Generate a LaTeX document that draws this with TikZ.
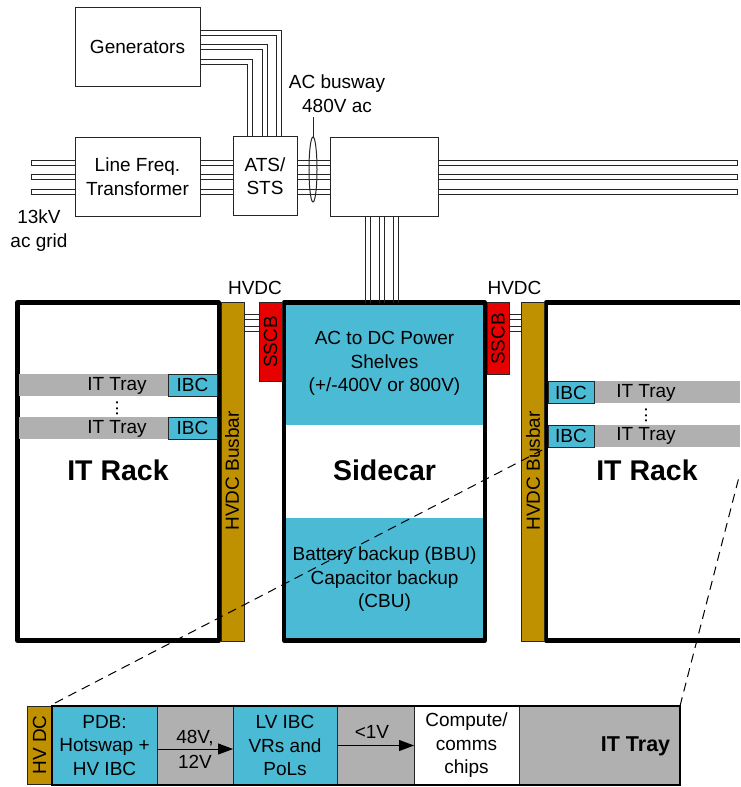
\documentclass[tikz,border=0pt]{standalone}
\usepackage{fontspec}
\setmainfont{Liberation Sans}
\usepackage{xcolor}
\usetikzlibrary{arrows.meta, positioning}
\usetikzlibrary{shapes.geometric}
\definecolor{tealfill}{HTML}{4BBAD5}
\definecolor{golfill}{HTML}{BF9000}
\definecolor{grayfill}{HTML}{B0B0B0}
\definecolor{redfill}{HTML}{E60000}
\definecolor{edgecol}{HTML}{262626}
\tikzset{
    lab/.style={inner sep=0pt, outer sep=0pt, align=center, font=\fontsize{19}{23.5}\selectfont},
    box/.style={lab, draw=edgecol, line width=1pt, fill=white},
    bigbox/.style={lab, draw=black, line width=4.2pt, line join=round},
    tealbox/.style={box, fill=tealfill},
    graybox/.style={lab, fill=grayfill},
    busline/.style={draw=edgecol, line width=1pt},
    biglab/.style={lab, font=\fontsize{28.5}{30}\selectfont\bfseries},
    link/.style={dash pattern=on 9pt off 6pt, line width=1pt},
    flow/.style={-{Triangle[length=15pt,width=11pt]}, line width=1pt}
}
\begin{document}
\begin{tikzpicture}[x=1pt, y=-1pt]
    \useasboundingbox (0,0) rectangle (740,787);

    % Sidecar inside
    \node[tealbox, draw=none, minimum width=201, minimum height=122.5] (shelves) at (384.5,363.75)
        {AC to DC Power\\Shelves\\(+/-400V or 800V)};
    \node[tealbox, draw=none, minimum width=201, minimum height=122.5] (bbu) at (384.5,579.25)
        {Battery backup (BBU)\\Capacitor backup\\(CBU)};
    \node[biglab] (sidelab) at (384.5,470) {Sidecar};

    % Racks and sidecar
    \node[bigbox, minimum width=201.5, minimum height=338] (rackl) at (118.25,471.5) {};
    \node[bigbox, minimum width=201, minimum height=338] (side) at (384.5,471.5) {};
    \draw[black, line width=4.2pt, line join=round] (740,302.5) -- (546,302.5) -- (546,640.5) -- (740,640.5);

    % Trays in left rack
    \node[graybox, minimum width=149, minimum height=22] (trayl1) at (93.5,385) {};
    \node[graybox, minimum width=149, minimum height=22] (trayl2) at (93.5,428) {};
    \node[lab] (traylab1) at (117,386) {IT Tray};
    \node[lab] (traylab2) at (117,429) {IT Tray};
    \node[tealbox, minimum width=49, minimum height=22] (ibcl1) at (192.5,385) {IBC};
    \node[tealbox, minimum width=49, minimum height=22] (ibcl2) at (192.5,428) {IBC};
    \node[lab, rotate=90] (dotsl) at (117,408.5) {...};
    \node[biglab] (racklab) at (118,470) {IT Rack};

    % Trays in right rack
    \node[graybox, minimum width=146, minimum height=22] (trayr1) at (667,392) {};
    \node[graybox, minimum width=146, minimum height=22] (trayr2) at (667,436) {};
    \node[lab] (traylab3) at (646,393) {IT Tray};
    \node[lab] (traylab4) at (646,436) {IT Tray};
    \node[tealbox, minimum width=46, minimum height=22] (ibcr1) at (571,392.5) {IBC};
    \node[tealbox, minimum width=46, minimum height=22] (ibcr2) at (571,436) {IBC};
    \node[lab, rotate=90] (dotsr) at (646,415.5) {...};
    \node[biglab] (racklabr) at (647,470) {IT Rack};

    % Busbars and breakers
    \node[box, fill=golfill, minimum width=23, minimum height=339] (busl) at (232.5,471.5) {};
    \node[box, fill=golfill, minimum width=23, minimum height=339] (busr) at (532.5,471.5) {};
    \node[lab, rotate=90] (buslabl) at (232,471) {HVDC Busbar};
    \node[lab, rotate=90] (buslabr) at (533,471) {HVDC Busbar};
    \node[box, fill=redfill, minimum width=23, minimum height=79] (sscbl) at (270.5,341.5) {};
    \node[box, fill=redfill, minimum width=22, minimum height=72] (sscbr) at (498,338) {};
    \node[lab, rotate=90] (sscblabl) at (270.5,342) {SSCB};
    \node[lab, rotate=90] (sscblabr) at (498,339) {SSCB};
    \foreach \y in {314,319.5,326,331} {
        \draw[busline] (busl.east |- 0,\y) -- (sscbl.west |- 0,\y);
        \draw[busline] (sscbr.east |- 0,\y) -- (busr.west |- 0,\y);
    }
    \node[lab] (hvdcl) at (255,288) {HVDC};
    \node[lab] (hvdcr) at (514.5,288) {HVDC};

    % AC side boxes
    \node[box, minimum width=125, minimum height=79] (gen) at (137.5,46.5) {Generators};
    \node[box, minimum width=125, minimum height=79] (xfmr) at (137.5,176.5) {Line Freq.\\Transformer};
    \node[box, minimum width=64, minimum height=79] (ats) at (265,176) {ATS/\\STS};
    \node[box, minimum width=108, minimum height=79] (acdc) at (384,176.5) {};

    % Generator feeds
    \draw[busline] (gen.east |- 0,30) -| (ats.north -| 281,0);
    \draw[busline] (gen.east |- 0,35) -| (ats.north -| 276,0);
    \draw[busline] (gen.east |- 0,44) -| (ats.north -| 267,0);
    \draw[busline] (gen.east |- 0,49) -| (ats.north -| 262,0);
    \draw[busline] (gen.east |- 0,59) -| (ats.north -| 252,0);
    \draw[busline] (gen.east |- 0,64) -| (ats.north -| 247,0);

    % Three phase runs
    \foreach \y in {160,174.5,189} {
        \draw[busline] (xfmr.west |- 0,\y) -- (31,\y) -- (31,\y+5) -- (xfmr.west |- 0,\y+5);
        \draw[busline] (acdc.east |- 0,\y) -- (737,\y) -- (737,\y+5) -- (acdc.east |- 0,\y+5);
        \draw[busline] (xfmr.east |- 0,\y) -- (ats.west |- 0,\y);
        \draw[busline] (xfmr.east |- 0,\y+5) -- (ats.west |- 0,\y+5);
        \draw[busline] (ats.east |- 0,\y) -- (acdc.west |- 0,\y);
        \draw[busline] (ats.east |- 0,\y+5) -- (acdc.west |- 0,\y+5);
    }

    % Feed to sidecar
    \foreach \x in {365,370,379,384,393,398} {
        \draw[busline] (acdc.south -| \x,0) -- (side.north -| \x,0);
    }

    % AC labels
    \node[draw=edgecol, line width=1pt, ellipse, minimum width=8, minimum height=65, inner sep=0pt] (ring) at (313,169.5) {};
    \node[lab] (aclab) at (337,93.5) {AC busway\\480V ac};
    \draw[busline] (ring.north) -- (313,117);
    \node[lab] (gridlab) at (39,230.5) {13kV\\ac grid};

    % Tray detail at the bottom
    \node[graybox, minimum width=628, minimum height=79] (tray) at (366,745.5) {};
    \node[box, fill=golfill, minimum width=25, minimum height=78] (hvdc) at (39.5,745.5) {};
    \node[lab, rotate=90] (hvdclab) at (39.5,745) {HV DC};
    \node[tealbox, minimum width=105, minimum height=79] (pdb) at (104.5,745.5) {PDB:\\Hotswap +\\HV IBC};
    \node[tealbox, minimum width=104, minimum height=79] (lvibc) at (285,745.5) {LV IBC\\VRs and\\PoLs};
    \node[box, minimum width=105, minimum height=79] (chips) at (466.5,745.5) {Compute/\\comms\\chips};
    \node[box, fill=none, draw=black, line width=2.8pt, minimum width=628, minimum height=79] (trayframe) at (366,745.5) {};
    \node[lab, font=\fontsize{21.5}{24}\selectfont\bfseries] (traylab) at (635.5,746) {IT Tray};
    \node[lab] (v48) at (195,738.5) {48V,};
    \node[lab] (v12) at (195,762) {12V};
    \node[lab] (v1) at (372,732) {<1V};
    \draw[flow] (pdb.east |- 0,749) -- (lvibc.west |- 0,749);
    \draw[flow] (lvibc.east |- 0,745.5) -- (chips.west |- 0,745.5);

    % Zoom lines from tray
    \draw[link] (pdb.north west) ++(3,-3) -- (ibcr2.south west);
    \coordinate (zoomend) at (739.5,475);
    \draw[link] (trayframe.north east) -- (zoomend);
\end{tikzpicture}
\end{document}
